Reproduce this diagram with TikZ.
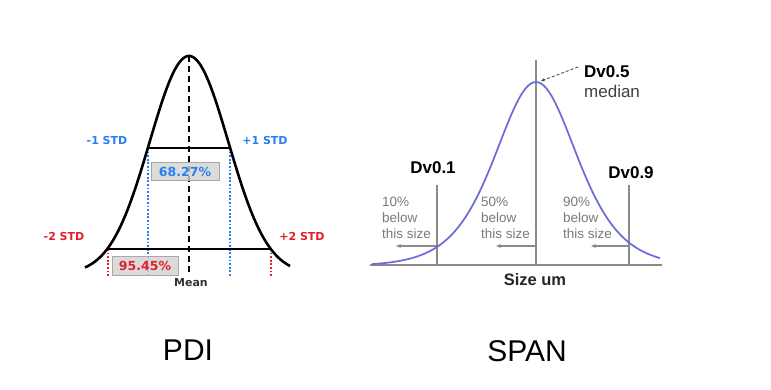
\documentclass[tikz,border=0pt]{standalone}
\usepackage{fontspec}
\setmainfont{Liberation Sans}
\newfontfamily\dv{DejaVu Sans}
\usetikzlibrary{arrows.meta}
\definecolor{stdblue}{HTML}{2A7FF0}
\definecolor{stdred}{HTML}{E0202A}
\definecolor{boxgray}{HTML}{D2D2D2}
\definecolor{boxedge}{HTML}{A8A8A8}
\definecolor{curveblue}{HTML}{6A6AD8}
\definecolor{linegray}{HTML}{8A8A8A}
\definecolor{textgray}{HTML}{7A7A7A}
\tikzset{
  bellcurve/.style={line width=2.6pt, black},
  meanline/.style={line width=2.6pt, black, dash pattern=on 6pt off 4pt},
  stdline/.style={line width=2pt, black},
  bluedots/.style={line width=2.8pt, stdblue, dash pattern=on 1.8pt off 1.8pt},
  reddots/.style={line width=2.8pt, stdred, dash pattern=on 1.8pt off 1.8pt},
  pctbox/.style={draw=boxedge, line width=1pt, fill=boxgray, fill opacity=0.8, text opacity=1, inner sep=0pt, font=\dv\bfseries\fontsize{12.5}{14}\selectfont},
  stdlabel/.style={font=\dv\bfseries\fontsize{11}{12}\selectfont, inner sep=0pt},
  spancurve/.style={line width=1.7pt, curveblue},
  grayline/.style={line width=1.2pt, linegray},
  grayarrow/.style={line width=1.3pt, linegray, -{Stealth[length=5pt,width=4pt]}},
  dvlabel/.style={font=\bfseries\fontsize{17}{19}\selectfont, inner sep=0pt},
  belowtext/.style={font=\fontsize{13.5}{16.3}\selectfont, text=textgray, align=left, inner sep=0pt},
  caption/.style={font=\fontsize{30}{32}\selectfont, inner sep=0pt}
}
\begin{document}
\begin{tikzpicture}[x=1pt,y=-1pt]
\useasboundingbox (0,0) rectangle (771,390);
\fill[white] (0,0) rectangle (771,390);

% ---------- PDI (left) ----------
\coordinate (peakL) at (189,56);
\coordinate (meanbot) at (189,273);
\coordinate (m1a) at (148,148);
\coordinate (m1b) at (230,148);
\coordinate (m2a) at (108,249);
\coordinate (m2b) at (271,249);
\coordinate (m1abot) at (148,277);
\coordinate (m1bbot) at (230,277);
\coordinate (m2abot) at (108,277);
\coordinate (m2bbot) at (271,277);

\draw[meanline] (peakL) -- (meanbot);
\draw[bluedots] (m1a) -- (m1abot);
\draw[bluedots] (m1b) -- (m1bbot);
\draw[reddots] (m2a) -- (m2abot);
\draw[reddots] (m2b) -- (m2bbot);
\draw[stdline] (m1a) -- (m1b);
\draw[stdline] (m2a) -- (m2b);
\draw[bellcurve, domain=85:290, samples=120, smooth]
  plot (\x, {274-218*exp(-((\x-189)*(\x-189))/3089)});

\node[pctbox, text=stdblue, minimum width=68pt, minimum height=18pt] (p68) at (185,172) {68.27\%};
\node[pctbox, text=stdred, minimum width=66pt, minimum height=19pt] (p95) at (145,265.5) {95.45\%};

\node[stdlabel, text=stdblue] (lm1) at (107,140) {-1 STD};
\node[stdlabel, text=stdblue] (lp1) at (265,140) {+1 STD};
\node[stdlabel, text=stdred] (lm2) at (64,236) {-2 STD};
\node[stdlabel, text=stdred] (lp2) at (302,236) {+2 STD};
\node[stdlabel, text=black!80] (mean) at (191,282.5) {Mean};

% ---------- SPAN (right) ----------
\coordinate (baseL) at (370,265);
\coordinate (baseR) at (662,265);
\coordinate (d1top) at (437,185);
\coordinate (d1bot) at (437,265);
\coordinate (d5top) at (536,60);
\coordinate (d5bot) at (536,265);
\coordinate (d9top) at (629,185);
\coordinate (d9bot) at (629,265);
\coordinate (a1s) at (437,246);
\coordinate (a1e) at (396,246);
\coordinate (a5s) at (536,246);
\coordinate (a5e) at (496,246);
\coordinate (a9s) at (629,246);
\coordinate (a9e) at (591,246);
\coordinate (peakR) at (541,81);
\coordinate (medstart) at (578,67);

\draw[grayline] (baseL) -- (baseR);
\draw[grayline] (d1top) -- (d1bot);
\draw[grayline] (d5top) -- (d5bot);
\draw[grayline] (d9top) -- (d9bot);
\draw[grayarrow] (a1s) -- (a1e);
\draw[grayarrow] (a5s) -- (a5e);
\draw[grayarrow] (a9s) -- (a9e);
\draw[spancurve, domain=372:660, samples=150, smooth]
  plot (\x, {266-184/(cosh((\x-536)/55)^2)});
\draw[line width=0.8pt, black!75, dash pattern=on 3pt off 2pt, -{Stealth[length=4pt,width=3.5pt]}] (medstart) -- (peakR);

\node[dvlabel] (dv1) at (433,168) {Dv0.1};
\node[dvlabel] (dv9) at (631,173) {Dv0.9};
\node[dvlabel, anchor=west] (dv5) at (584,71.5) {Dv0.5};
\node[font=\fontsize{17}{19}\selectfont, text=black!75, inner sep=0pt, anchor=west] (med) at (584,91) {median};

\node[belowtext, anchor=west] (b10) at (382,218) {10\%\\below\\this size};
\node[belowtext, anchor=west] (b50) at (481,218) {50\%\\below\\this size};
\node[belowtext, anchor=west] (b90) at (563,218) {90\%\\below\\this size};

\node[font=\bfseries\fontsize{16.5}{18}\selectfont, inner sep=0pt, text=black!85] (size) at (535,280) {Size um};

% ---------- captions ----------
\node[caption] (pdi) at (188,350) {PDI};
\node[caption] (span) at (527,351) {SPAN};
\end{tikzpicture}
\end{document}
